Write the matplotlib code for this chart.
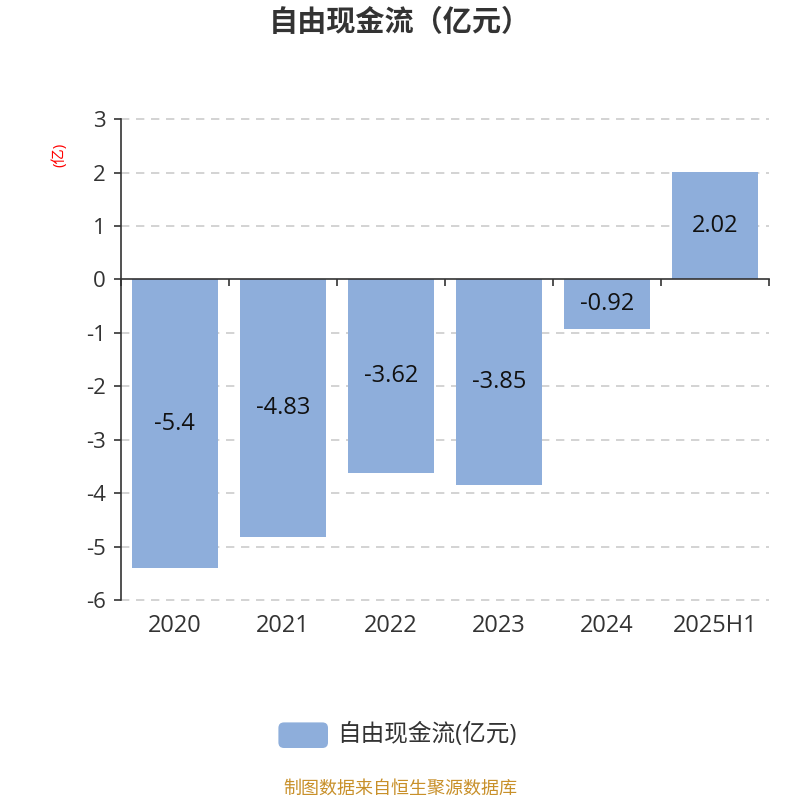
import matplotlib.pyplot as plt
from matplotlib.patches import FancyBboxPatch
from matplotlib.transforms import blended_transform_factory

plt.rcParams['font.family'] = ['Open Sans', 'Noto Sans CJK SC', 'DejaVu Sans']

# 数据
years = ['2020', '2021', '2022', '2023', '2024', '2025H1']
fcf = [-5.4, -4.83, -3.62, -3.85, -0.92, 2.02]
yticks = [3, 2, 1, 0, -1, -2, -3, -4, -5, -6]

bar_color = '#8eaedb'
txt = '#333333'

fig = plt.figure(figsize=(8, 8), dpi=100)
ax = fig.add_axes([0.151, 0.25, 0.81, 0.601])

x = list(range(len(years)))
ax.bar(x, fcf, width=0.8, color=bar_color, zorder=2)
for xi, v in zip(x, fcf):
    ax.text(xi, v / 2, f'{v:g}', ha='center', va='center', fontsize=17, color='#111111', zorder=3)

ax.set_xlim(-0.5, len(years) - 0.5)
ax.set_ylim(-6, 3)
ax.set_yticks(yticks)
ax.set_yticklabels([str(t) for t in yticks], fontsize=16, color=txt)
for t in yticks:
    if t != 0:
        ax.axhline(t, color='#cccccc', linestyle=(0, (5, 4)), linewidth=1.2, zorder=1, clip_on=False)

# 坐标轴
for s in ['top', 'right']:
    ax.spines[s].set_visible(False)
ax.spines['left'].set_color(txt)
ax.spines['left'].set_linewidth(1.2)
ax.spines['bottom'].set_position(('data', 0))
ax.spines['bottom'].set_color(txt)
ax.spines['bottom'].set_linewidth(1.2)
ax.tick_params(axis='y', length=5, width=1.2, color=txt, pad=6)
ax.set_xticks([i - 0.5 for i in range(len(years) + 1)])
ax.set_xticklabels([])
ax.tick_params(axis='x', length=5, width=1.2, color=txt)

trans = blended_transform_factory(ax.transData, ax.transAxes)
for xi, lab in zip(x, years):
    ax.text(xi, -0.055, lab, transform=trans, ha='center', va='center', fontsize=17, color=txt)

fig.text(0.074, 0.806, '(亿)', rotation=90, ha='center', va='center', fontsize=11, color='red')

fig.text(0.5, 0.97, '自由现金流（亿元）', ha='center', va='center', fontsize=21,
         fontweight='bold', color=txt)

# 图例
fig.patches.append(FancyBboxPatch((0.348, 0.065), 0.062, 0.032, boxstyle='round,pad=0,rounding_size=0.007',
                                  transform=fig.transFigure, facecolor=bar_color, edgecolor='none'))
fig.text(0.422, 0.081, '自由现金流(亿元)', ha='left', va='center', fontsize=17, color=txt)

fig.text(0.5, 0.014, '制图数据来自恒生聚源数据库', ha='center', va='center', fontsize=13, color='#c8902a')

fig.savefig('out.png', dpi=100)
